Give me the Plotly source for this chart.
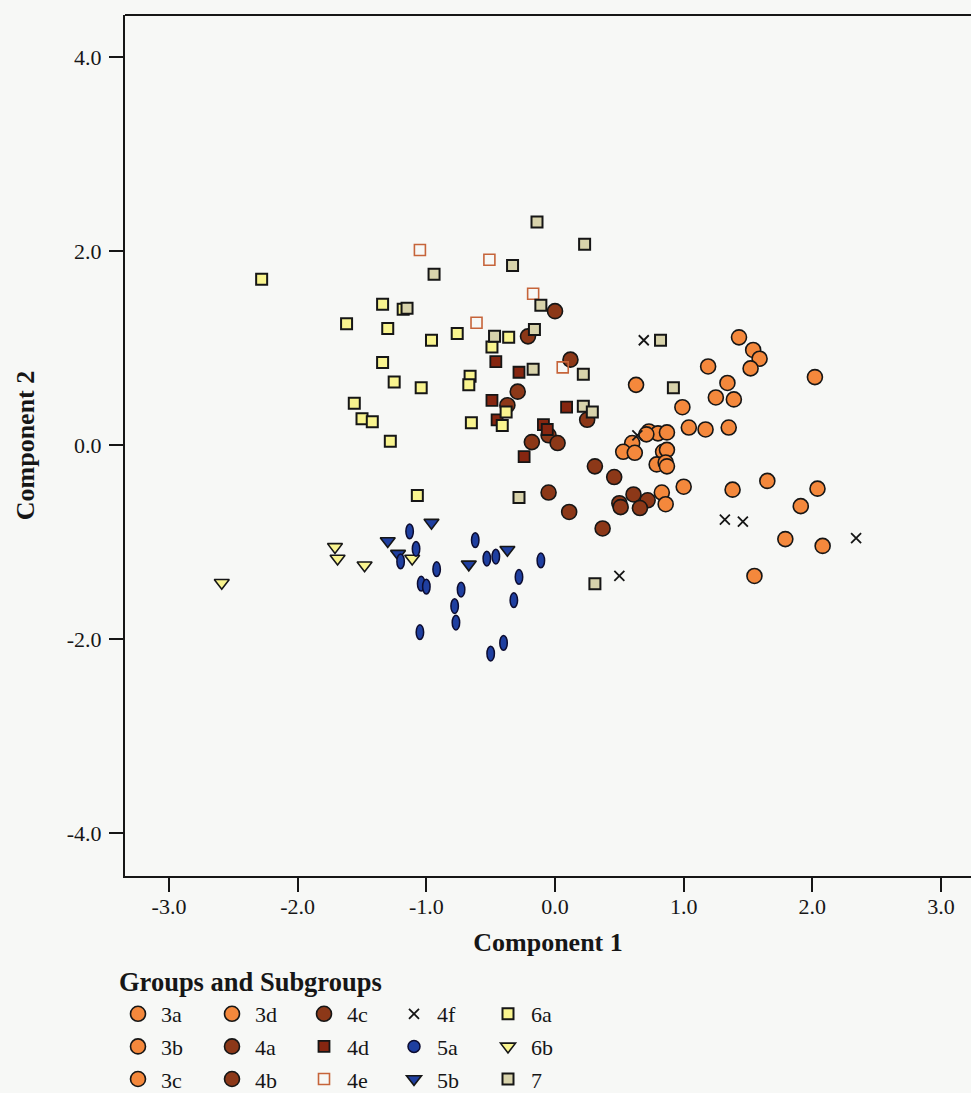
import plotly.graph_objects as go

# ---------------- data (Component 1, Component 2) ----------------
g3a_x = [1.43, 1.54, 1.59, 1.52, 1.19, 2.02, 0.63, 1.34, 1.25]
g3a_y = [1.11, 0.98, 0.89, 0.79, 0.81, 0.70, 0.62, 0.64, 0.49]
g3b_x = [1.39, 0.99, 1.04, 1.17, 1.35, 0.73, 0.80, 0.87, 0.71]
g3b_y = [0.47, 0.39, 0.18, 0.16, 0.18, 0.14, 0.12, 0.13, 0.11]
g3c_x = [0.60, 0.53, 0.62, 0.84, 0.87, 0.79, 0.86, 0.87, 1.00]
g3c_y = [0.02, -0.07, -0.08, -0.07, -0.05, -0.20, -0.18, -0.22, -0.43]
g3d_x = [0.83, 0.86, 1.38, 1.65, 2.04, 1.91, 1.79, 2.08, 1.55]
g3d_y = [-0.49, -0.61, -0.46, -0.37, -0.45, -0.63, -0.97, -1.04, -1.35]

g4a_x = [0.00, -0.21, 0.12, -0.29, -0.37, 0.25, -0.05]
g4a_y = [1.38, 1.12, 0.88, 0.55, 0.41, 0.26, 0.10]
g4b_x = [0.02, -0.18, 0.31, 0.46, -0.05, 0.11]
g4b_y = [0.02, 0.03, -0.22, -0.33, -0.49, -0.69]
g4c_x = [0.37, 0.50, 0.51, 0.61, 0.72, 0.66]
g4c_y = [-0.86, -0.60, -0.64, -0.51, -0.57, -0.65]

g4d_x = [-0.46, -0.28, -0.49, -0.45, 0.09, -0.09, -0.06, -0.24]
g4d_y = [0.86, 0.75, 0.46, 0.26, 0.39, 0.21, 0.16, -0.12]

g4e_x = [-1.05, -0.51, -0.61, -0.17, 0.06]
g4e_y = [2.01, 1.91, 1.26, 1.56, 0.80]

g4f_x = [0.69, 0.64, 1.32, 1.46, 2.34, 0.50]
g4f_y = [1.08, 0.10, -0.77, -0.79, -0.96, -1.35]

g5a_x = [-1.13, -1.08, -1.20, -0.92, -1.04, -1.00, -1.05, -0.62, -0.53,
         -0.46, -0.73, -0.78, -0.77, -0.28, -0.32, -0.11, -0.40, -0.50]
g5a_y = [-0.89, -1.07, -1.20, -1.28, -1.43, -1.46, -1.93, -0.98, -1.17,
         -1.15, -1.49, -1.66, -1.83, -1.36, -1.60, -1.19, -2.04, -2.15]

g5b_x = [-1.30, -1.22, -0.96, -0.67, -0.37]
g5b_y = [-0.99, -1.12, -0.80, -1.23, -1.08]

g6a_x = [-2.28, -1.34, -1.18, -1.62, -1.30, -0.76, -0.96, -0.49, -1.34, -1.25, -1.04,
         -0.66, -0.67, -1.56, -1.50, -1.42, -0.65, -1.28, -0.36, -0.38, -0.41, -1.07]
g6a_y = [1.71, 1.45, 1.40, 1.25, 1.20, 1.15, 1.08, 1.01, 0.85, 0.65, 0.59,
         0.71, 0.62, 0.43, 0.27, 0.24, 0.23, 0.04, 1.11, 0.34, 0.20, -0.52]

g6b_x = [-2.59, -1.71, -1.69, -1.48, -1.11]
g6b_y = [-1.42, -1.05, -1.17, -1.24, -1.17]

g7_x = [-0.14, 0.23, -0.33, -0.94, -1.15, -0.11, -0.47, -0.16, -0.17, 0.22,
        0.22, 0.29, 0.82, 0.92, -0.28, 0.31]
g7_y = [2.30, 2.07, 1.85, 1.76, 1.41, 1.44, 1.12, 1.19, 0.78, 0.73,
        0.40, 0.34, 1.08, 0.59, -0.54, -1.43]

x_tickvals = [-3, -2, -1, 0, 1, 2, 3]
x_ticktext = ["-3.0", "-2.0", "-1.0", "0.0", "1.0", "2.0", "3.0"]
y_tickvals = [-4, -2, 0, 2, 4]
y_ticktext = ["-4.0", "-2.0", "0.0", "2.0", "4.0"]

# ---------------- styles ----------------
FONT = "Liberation Serif, Times New Roman, serif"
BLACK = "#161616"
BG = "#f7f8f6"
ORANGE = "#f4883c"
BROWN = "#8c3818"
DARKRED = "#862610"
OPEN = "#c6643a"
NAVY = "#1f3fa0"
YELLOW = "#f9f48f"
TAN = "#d8d3ab"

# plot area in pixels: left 125, top 15, right 971, bottom 876
L, T, R, B = 125, 15, 971, 876
W, H = 971, 1093

def px_x(p):
    return (p - L) / (R - L)

def px_y(p):
    return (B - p) / (B - T)

fig = go.Figure()

# (name, xs, ys, symbol, fill, line colour, line width, size, legend id, rank)
specs = [
    ("3a", g3a_x, g3a_y, "circle", ORANGE, BLACK, 1.6, 15, "legend", 1),
    ("3b", g3b_x, g3b_y, "circle", ORANGE, BLACK, 1.6, 15, "legend", 2),
    ("3c", g3c_x, g3c_y, "circle", ORANGE, BLACK, 1.6, 15, "legend", 3),
    ("3d", g3d_x, g3d_y, "circle", ORANGE, BLACK, 1.6, 15, "legend2", 1),
    ("4a", g4a_x, g4a_y, "circle", BROWN, BLACK, 1.6, 15, "legend2", 2),
    ("4b", g4b_x, g4b_y, "circle", BROWN, BLACK, 1.6, 15, "legend2", 3),
    ("4c", g4c_x, g4c_y, "circle", BROWN, BLACK, 1.6, 15, "legend3", 1),
    ("4d", g4d_x, g4d_y, "square", DARKRED, BLACK, 1.8, 11, "legend3", 2),
    ("4e", g4e_x, g4e_y, "square-open", OPEN, OPEN, 1.6, 11, "legend3", 3),
    ("4f", g4f_x, g4f_y, "x-thin", BLACK, BLACK, 1.8, 10, "legend4", 1),
    ("5b", g5b_x, g5b_y, "triangle-down", NAVY, BLACK, 1.6, 13, "legend4", 3),
    ("6a", g6a_x, g6a_y, "square", YELLOW, BLACK, 2.0, 11, "legend5", 1),
    ("6b", g6b_x, g6b_y, "triangle-down", YELLOW, BLACK, 1.6, 13, "legend5", 2),
    ("7", g7_x, g7_y, "square", TAN, BLACK, 2.0, 11, "legend5", 3),
]

for name, xs, ys, sym, fill, lc, lw, size, leg, rank in specs:
    fig.add_trace(go.Scatter(
        x=xs, y=ys, mode="markers", name=name,
        marker=dict(symbol=sym, size=size, color=fill, line=dict(color=lc, width=lw)),
        legend=leg, legendgroup=name, legendrank=rank,
    ))

# 5a: vertical ellipses drawn in data coordinates
EX, EY = 0.029, 0.076
for i, (cx, cy) in enumerate(zip(g5a_x, g5a_y)):
    fig.add_shape(
        type="circle", xref="x", yref="y",
        x0=cx - EX, x1=cx + EX, y0=cy - EY, y1=cy + EY,
        fillcolor=NAVY, line=dict(color="#0c0c30", width=1.5), layer="above",
        name="5a", legend="legend4", legendgroup="5a", legendrank=2,
        showlegend=(i == 0),
    )

# top frame line
fig.add_shape(type="line", xref="paper", yref="paper", x0=0, x1=1, y0=1, y1=1,
              line=dict(color=BLACK, width=2))

legend_lefts = [115, 209, 301, 391, 485]
legend_top = 993
legends = {}
for i, lx in enumerate(legend_lefts):
    key = "legend" if i == 0 else f"legend{i + 1}"
    legends[key] = dict(
        x=px_x(lx), y=px_y(legend_top), xanchor="left", yanchor="top",
        bgcolor="rgba(0,0,0,0)", borderwidth=0,
        font=dict(family=FONT, size=22, color=BLACK),
        tracegroupgap=1, traceorder="grouped", itemwidth=36,
    )

fig.update_layout(
    width=W, height=H,
    margin=dict(l=L, r=W - R, t=T, b=H - B, autoexpand=False),
    paper_bgcolor=BG, plot_bgcolor=BG,
    font=dict(family=FONT, size=22, color=BLACK),
    showlegend=True,
    **legends,
    annotations=[dict(
        text="<b>Groups and Subgroups</b>", xref="paper", yref="paper",
        x=px_x(117), y=px_y(982), xanchor="left", yanchor="middle",
        showarrow=False, font=dict(family=FONT, size=26.5, color=BLACK),
    )],
)

fig.update_xaxes(
    range=[-3.342, 3.233], tickvals=x_tickvals, ticktext=x_ticktext,
    showgrid=False, zeroline=False, showline=True, linecolor=BLACK, linewidth=2,
    ticks="outside", ticklen=14, tickwidth=2, tickcolor=BLACK,
    tickfont=dict(family=FONT, size=22, color=BLACK), ticklabelstandoff=-4,
    title=dict(text="<b>Component 1</b>", font=dict(family=FONT, size=26, color=BLACK), standoff=14),
)
fig.update_yaxes(
    range=[-4.443, 4.433], tickvals=y_tickvals, ticktext=y_ticktext,
    showgrid=False, zeroline=False, showline=True, linecolor=BLACK, linewidth=2,
    ticks="outside", ticklen=14, tickwidth=2, tickcolor=BLACK,
    tickfont=dict(family=FONT, size=22, color=BLACK), ticklabelstandoff=3,
    title=dict(text="<b>Component 2</b>", font=dict(family=FONT, size=26, color=BLACK), standoff=25),
)

fig.write_html("out.html", config={"displayModeBar": False},
               post_script="document.body.style.margin='0';")
